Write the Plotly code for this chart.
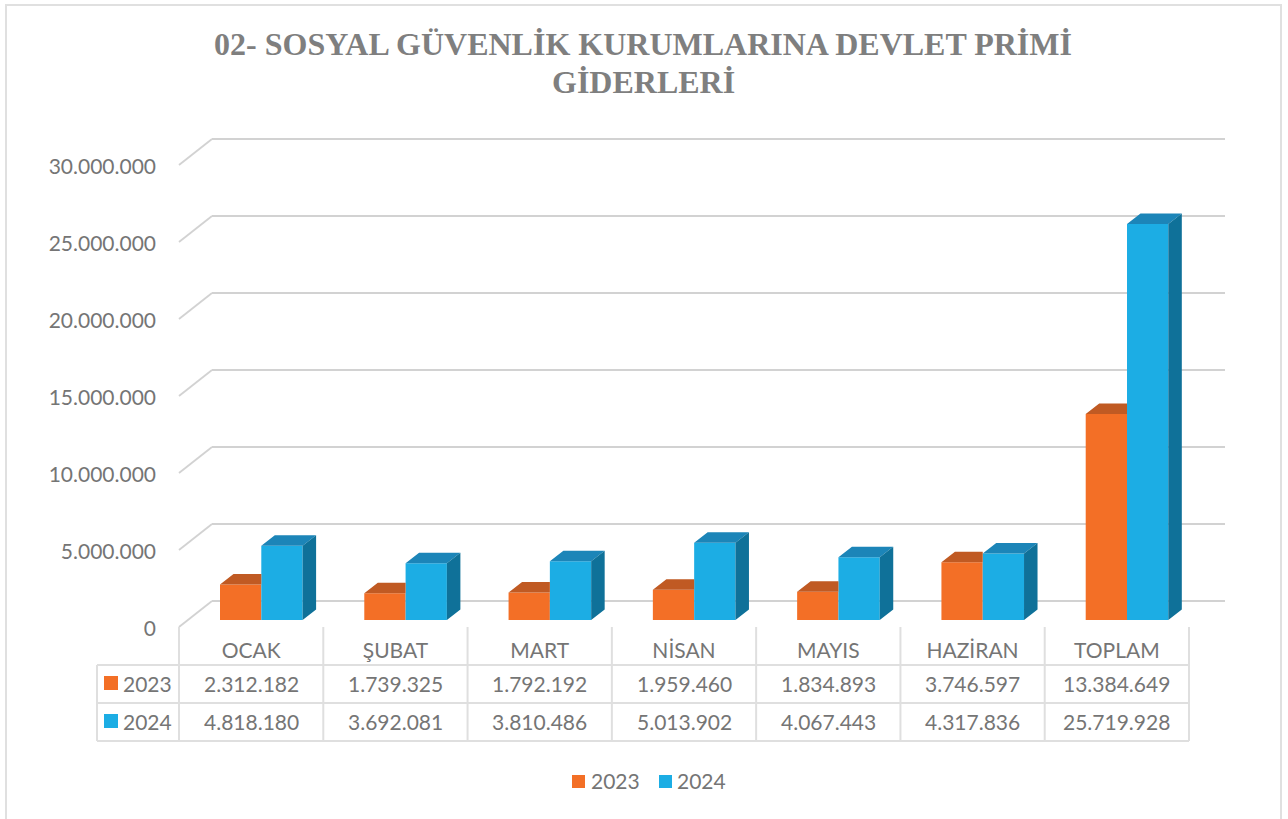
import plotly.graph_objects as go

categories = ["OCAK", "ŞUBAT", "MART", "NİSAN", "MAYIS", "HAZİRAN", "TOPLAM"]
values_2023 = [2312182, 1739325, 1792192, 1959460, 1834893, 3746597, 13384649]
values_2024 = [4818180, 3692081, 3810486, 5013902, 4067443, 4317836, 25719928]
series_names = ["2023", "2024"]
y_ticks = [0, 5000000, 10000000, 15000000, 20000000, 25000000, 30000000]
title_lines = ["02- SOSYAL GÜVENLİK KURUMLARINA DEVLET PRİMİ", "GİDERLERİ"]

W, H = 1288, 819
X0, Y0 = 179, 627                       # where category 0 / value 0 fall on the page
L, R, T, B = 175, 1225, 130, 632        # plot box, a little wider so wall lines are not clipped
CAT_PX = 1010 / 7
PX_PER_UNIT = 77 / 5000000
cat = lambda p: p / CAT_PX              # horizontal pixels -> category units
val = lambda p: p / PX_PER_UNIT         # vertical pixels -> value units
px = lambda x: (x - L) / (R - L)        # page pixels -> paper
py = lambda y: (B - y) / (B - T)

TEXT = "#757575"
GRID = "#d2d2d2"
TABLE = "#dfdfdf"
BORDER = "#e0e0e0"
FONT = "Lato"
FRONT = ["#F36F26", "#1CADE4"]
TOP = ["#C05A23", "#1C85B8"]
SIDE = ["#A94E1E", "#0F7199"]

BAR_W = cat(41.3)
BAR_START = cat(41)
DX = cat(13.5)
DY = val(10.5)
BAR_BASE = val(7)
WALL_X = cat(33)
WALL_Y = val(26)

fig = go.Figure()
series = [values_2023, values_2024]

for s, (name, vals) in enumerate(zip(series_names, series)):
    xc = [i + BAR_START + BAR_W * (s + 0.5) for i in range(len(vals))]
    fig.add_trace(go.Bar(x=xc, y=vals, base=BAR_BASE, width=BAR_W, name=name, showlegend=False,
                         marker=dict(color=FRONT[s], line=dict(width=0))))

for s, vals in enumerate(series):
    tx, ty, sx, sy = [], [], [], []
    for i, v in enumerate(vals):
        x0 = i + BAR_START + BAR_W * s
        x1 = x0 + BAR_W
        top = v + BAR_BASE
        # the earlier series sits behind the next one: cut its top at that bar's face
        xr = x1 if s == 0 else x1 + DX
        tx += [x0, x1, xr, x0 + DX, x0, None]
        ty += [top, top, top + DY, top + DY, top, None]
        if s == 1:
            sx += [x1, x1 + DX, x1 + DX, x1, x1, None]
            sy += [top, top + DY, BAR_BASE + DY, BAR_BASE, top, None]
    fig.add_trace(go.Scatter(x=tx, y=ty, fill="toself", fillcolor=TOP[s], mode="none",
                             showlegend=False, hoverinfo="skip"))
    if sx:
        fig.add_trace(go.Scatter(x=sx, y=sy, fill="toself", fillcolor=SIDE[s], mode="none",
                                 showlegend=False, hoverinfo="skip"))

shapes = []
x_end = cat(R - X0)
for t in y_ticks:
    shapes.append(dict(type="line", layer="below", xref="x", yref="y",
                       x0=0, y0=t, x1=WALL_X, y1=t + WALL_Y, line=dict(color=GRID, width=1.8)))
    shapes.append(dict(type="line", layer="below", xref="x", yref="y",
                       x0=WALL_X, y0=t + WALL_Y, x1=x_end, y1=t + WALL_Y,
                       line=dict(color=GRID, width=1.8)))

# data table rules
rows_y = [665, 703, 741]
tb_left, tb_right, tb_top = 97, 1189, 627
for y in rows_y:
    shapes.append(dict(type="line", xref="paper", yref="paper", x0=px(tb_left), x1=px(tb_right),
                       y0=py(y), y1=py(y), line=dict(color=TABLE, width=2)))
shapes.append(dict(type="line", xref="paper", yref="paper", x0=px(tb_left), x1=px(tb_left),
                   y0=py(rows_y[0]), y1=py(rows_y[-1]), line=dict(color=TABLE, width=2)))
for i in range(len(categories) + 1):
    xp = X0 + i * CAT_PX
    shapes.append(dict(type="line", xref="paper", yref="paper", x0=px(xp), x1=px(xp),
                       y0=py(tb_top), y1=py(rows_y[-1]), line=dict(color=TABLE, width=2)))

# chart frame
shapes.append(dict(type="rect", xref="paper", yref="paper", x0=px(6), x1=px(1281),
                   y0=py(H + 10), y1=py(5), line=dict(color=BORDER, width=2), layer="below"))

def label(x, y, text, size=21):
    return dict(xref="paper", yref="paper", x=px(x), y=py(y), text=text, showarrow=False,
                xanchor="center", yanchor="middle", font=dict(family=FONT, size=size, color=TEXT))

annotations = []
fmt = lambda v: f"{v:,d}".replace(",", ".")
row_centers = [683, 721]
for r, (name, vals) in enumerate(zip(series_names, series)):
    yc = row_centers[r]
    shapes.append(dict(type="rect", xref="paper", yref="paper", x0=px(104), x1=px(118),
                       y0=py(yc - 7), y1=py(yc + 7), fillcolor=FRONT[r], line=dict(width=0)))
    annotations.append(label(147, yc, name))
    for i, v in enumerate(vals):
        annotations.append(label(X0 + (i + 0.5) * CAT_PX, yc, fmt(v)))

# legend below the table
for r, (name, sx, tx) in enumerate(zip(series_names, [572, 659], [615, 701])):
    shapes.append(dict(type="rect", xref="paper", yref="paper", x0=px(sx), x1=px(sx + 13),
                       y0=py(775), y1=py(788), fillcolor=FRONT[r], line=dict(width=0)))
    annotations.append(label(tx, 780, name))

annotations.append(dict(xref="paper", yref="paper", x=px(643), y=py(82),
                        text="<b>" + title_lines[1] + "</b>", showarrow=False,
                        xanchor="center", yanchor="middle",
                        font=dict(family="Liberation Serif", size=32, color="#7f7f7f")))

fig.update_layout(
    width=W, height=H, margin=dict(l=L, r=W - R, t=T, b=H - B),
    paper_bgcolor="white", plot_bgcolor="rgba(0,0,0,0)", showlegend=False,
    separators=",.", barmode="overlay", shapes=shapes, annotations=annotations,
    font=dict(family=FONT, size=21, color=TEXT),
    title=dict(text="<b>" + title_lines[0] + "</b>",
               x=643 / W, xanchor="center", xref="container",
               y=1 - 44 / H, yanchor="middle", yref="container",
               font=dict(family="Liberation Serif", size=32, color="#7f7f7f")),
    xaxis=dict(range=[cat(L - X0), x_end], tickmode="array",
               tickvals=[i + 0.5 for i in range(len(categories))], ticktext=categories,
               showgrid=False, zeroline=False, showline=False, ticks="", ticklabelstandoff=4,
               tickfont=dict(family=FONT, size=21, color=TEXT), fixedrange=True),
    yaxis=dict(range=[val(Y0 - B), val(Y0 - T)], tickmode="array", tickvals=y_ticks,
               tickformat=",d", showgrid=False, zeroline=False, showline=False, ticks="",
               ticklabelstandoff=18, ticklabelshift=2,
               tickfont=dict(family=FONT, size=21, color=TEXT), fixedrange=True),
)

fig.write_html("out.html", config={"displayModeBar": False},
               post_script="document.body.style.margin='0';document.documentElement.style.overflow='hidden';")
